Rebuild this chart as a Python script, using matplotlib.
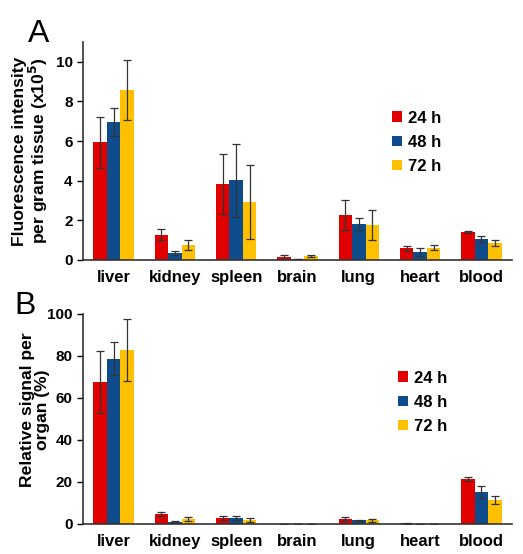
import matplotlib
matplotlib.use("Agg")
import matplotlib.pyplot as plt
import numpy as np

plt.rcParams["font.family"] = ["Liberation Sans", "DejaVu Sans"]
plt.rcParams["font.weight"] = "bold"

organs = ["liver", "kidney", "spleen", "brain", "lung", "heart", "blood"]
times = ["24 h", "48 h", "72 h"]
colors = ["#E10000", "#0E4C8C", "#FFC000"]

# panel A: fluorescence intensity per gram tissue (x10^5)
a_24 = [5.93, 1.28, 3.83, 0.13, 2.27, 0.59, 1.41]
a_48 = [6.96, 0.34, 4.02, 0.05, 1.83, 0.42, 1.04]
a_72 = [8.57, 0.77, 2.92, 0.19, 1.76, 0.62, 0.87]
a_24_err = [1.3, 0.27, 1.5, 0.10, 0.75, 0.14, 0.05]
a_48_err = [0.7, 0.10, 1.85, 0.02, 0.30, 0.20, 0.15]
a_72_err = [1.5, 0.25, 1.85, 0.05, 0.75, 0.14, 0.15]

# panel B: relative signal per organ (%)
b_24 = [67.6, 4.6, 2.7, 0.0, 2.2, 0.3, 21.6]
b_48 = [78.7, 1.0, 2.7, 0.0, 1.7, 0.1, 15.2]
b_72 = [82.7, 2.2, 1.9, 0.0, 1.7, 0.1, 11.3]
b_24_err = [14.8, 1.0, 1.0, 0.0, 1.0, 0.1, 1.0]
b_48_err = [8.0, 0.2, 1.0, 0.0, 0.3, 0.0, 2.9]
b_72_err = [14.8, 1.0, 1.0, 0.0, 0.7, 0.0, 1.9]

fig = plt.figure(figsize=(5.23, 5.54), dpi=100)
axA = fig.add_axes([0.1587, 0.5307, 0.8203, 0.3935])
axB = fig.add_axes([0.1587, 0.0542, 0.8203, 0.3791])

x = np.arange(len(organs))
w = 0.22


def draw(ax, series, errs, ylim, yticks, ylabel, label_y, leg_anchor):
    for i, (vals, err) in enumerate(zip(series, errs)):
        ax.bar(x + (i - 1) * w, vals, w, color=colors[i], label=times[i],
               yerr=err, error_kw=dict(ecolor="#333333", elinewidth=0.9,
                                       capsize=2.8, capthick=0.9))
    ax.set_xlim(-0.5, 6.5)
    ax.set_ylim(*ylim)
    ax.set_yticks(yticks)
    ax.set_xticks(x)
    ax.set_xticklabels(organs, fontsize=12, fontweight="bold")
    ax.tick_params(axis="y", labelsize=11, length=4, width=1, colors="#000000")
    ax.tick_params(axis="x", length=0, pad=7)
    for s in ["top", "right"]:
        ax.spines[s].set_visible(False)
    for s in ["left", "bottom"]:
        ax.spines[s].set_color("#333333")
        ax.spines[s].set_linewidth(1.2)
    ax.set_ylabel(ylabel, fontsize=12.6, fontweight="bold", linespacing=1.0)
    ax.yaxis.set_label_coords(-0.077, label_y)
    ax.legend(loc="upper left", bbox_to_anchor=leg_anchor, frameon=False,
              handlelength=0.6, handleheight=0.6, handletextpad=0.35,
              labelspacing=0.55, borderpad=0, borderaxespad=0,
              prop=dict(size=12, weight="bold"))


draw(axA, [a_24, a_48, a_72], [a_24_err, a_48_err, a_72_err], (0, 11),
     [0, 2, 4, 6, 8, 10],
     "Fluorescence intensity\nper gram tissue (x10$^{\\mathbf{5}}$)",
     0.5, (0.72, 0.685))
draw(axB, [b_24, b_48, b_72], [b_24_err, b_48_err, b_72_err], (0, 100),
     [0, 20, 40, 60, 80, 100],
     "Relative signal per\norgan (%)",
     0.543, (0.735, 0.73))

fig.text(0.053, 0.925, "A", fontsize=23, fontweight="normal")
fig.text(0.027, 0.433, "B", fontsize=23, fontweight="normal")

fig.savefig("out.png", dpi=100)
